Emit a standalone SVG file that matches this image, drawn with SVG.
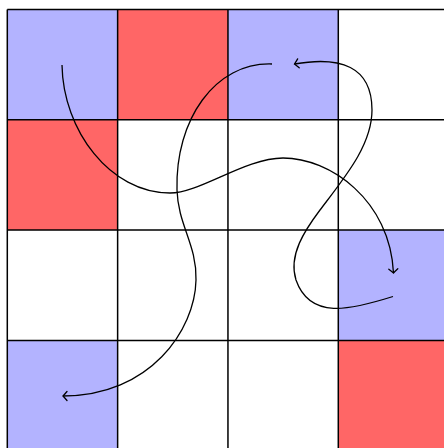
<svg xmlns="http://www.w3.org/2000/svg" width="444" height="448" viewBox="0 0 444 448">
<style>
.blue{fill:#b3b3ff}
.red{fill:#ff6666}
.grid{fill:none;stroke:#000;stroke-width:1.5}
.curve{fill:none;stroke:#000;stroke-width:1.3;marker-end:url(#arr)}
</style>
<defs>
<marker id="arr" markerUnits="userSpaceOnUse" markerWidth="20" markerHeight="20" viewBox="-10 -10 20 20" refX="0" refY="0" orient="auto" overflow="visible">
<path d="M-4,-4.5 Q-1.2,-1.2 0,0 Q-1.2,1.2 -4,4.5" fill="none" stroke="#000" stroke-width="1.3" stroke-linecap="round"/>
</marker>
</defs>
<rect width="444" height="448" fill="#fff"/>
<g id="cells">
<rect id="c00" class="blue" x="7.3" y="9.4" width="110.33" height="110.33"/>
<rect id="c01" class="red" x="117.63" y="9.4" width="110.33" height="110.33"/>
<rect id="c02" class="blue" x="227.96" y="9.4" width="110.33" height="110.33"/>
<rect id="c10" class="red" x="7.3" y="119.73" width="110.33" height="110.33"/>
<rect id="c23" class="blue" x="338.29" y="230.06" width="110.33" height="110.33"/>
<rect id="c30" class="blue" x="7.3" y="340.39" width="110.33" height="110.33"/>
<rect id="c33" class="red" x="338.29" y="340.39" width="110.33" height="110.33"/>
</g>
<g id="grid" class="grid">
<path d="M7.3,9.4V450.7M117.63,9.4V450.7M227.96,9.4V450.7M338.29,9.4V450.7M7.3,9.4H448.7M7.3,119.73H448.7M7.3,230.06H448.7M7.3,340.39H448.7"/>
</g>
<g id="connectors">
<path class="curve" d="M62,65 C63,130 110,193 170,193 C200,193 245,158 283,158 C330,158 390,200 393.5,273"/>
<path class="curve" d="M272,64 C215,62 175,120 177,190 C178,225 197,245 196,280 C195,330 150,396 63,396"/>
<path class="curve" d="M393,296.5 C350,310 310,320 296,280 C288,255 305,230 320,210 C345,177 372,145 372,110 C372,66 340,56 294.5,64"/>
</g>
</svg>
